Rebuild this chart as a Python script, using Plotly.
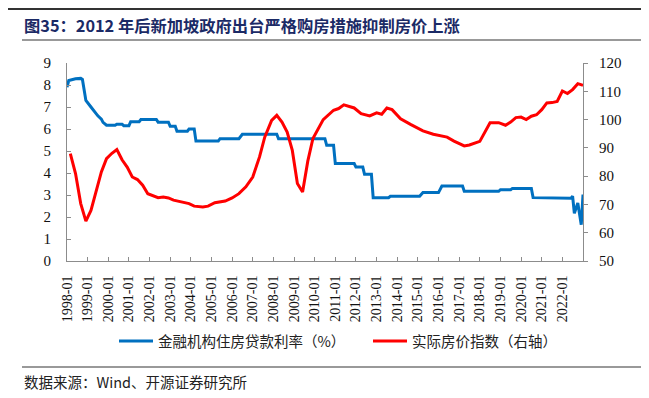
import plotly.graph_objects as go

# ---------------- data ----------------
rate_dates = ["1998-01","1998-02","1998-06","1998-09","1998-10","1998-12","1999-03","1999-05","1999-07",
              "1999-09","1999-10","1999-12","2000-05","2000-06","2000-09","2000-10","2001-01","2001-02",
              "2001-07","2001-08","2002-05","2002-06","2002-12","2003-01","2003-04","2003-05","2003-11",
              "2003-12","2004-03","2004-04","2005-05","2005-06","2006-05","2006-07","2008-03","2008-04",
              "2010-07","2010-08","2010-12","2011-01","2011-12","2012-01","2012-05","2012-06","2012-10",
              "2012-11","2013-08","2013-09","2015-02","2015-04","2016-01","2016-03","2017-03","2017-04",
              "2018-12","2019-01","2019-07","2019-08","2020-07","2020-08","2021-06","2022-06","2022-07",
              "2022-08","2022-10","2022-12","2023-01"]
rate_values = [7.9,8.2,8.28,8.3,8.25,7.3,7.0,6.77,6.6,
               6.45,6.3,6.17,6.17,6.22,6.22,6.15,6.15,6.33,
               6.33,6.43,6.43,6.31,6.31,6.12,6.12,5.9,5.9,
               6.0,6.0,5.45,5.45,5.56,5.56,5.76,5.76,5.56,
               5.56,5.26,5.26,4.43,4.43,4.27,4.27,3.94,3.94,
               2.88,2.88,2.94,2.94,3.11,3.11,3.41,3.41,3.17,
               3.17,3.24,3.24,3.30,3.30,2.88,2.86,2.85,2.95,
               2.17,2.64,1.65,3.02]

hpi_dates = ["1998-03","1998-06","1998-09","1998-12","1999-03","1999-06","1999-09","1999-12","2000-03",
             "2000-06","2000-09","2000-12","2001-03","2001-06","2001-09","2001-12","2002-06","2002-09",
             "2002-12","2003-03","2003-08","2003-12","2004-03","2004-08","2004-11","2005-03","2005-09",
             "2006-01","2006-05","2006-09","2007-01","2007-05","2007-08","2007-12","2008-03","2008-06",
             "2008-09","2008-12","2009-03","2009-06","2009-09","2009-12","2010-06","2010-12","2011-03",
             "2011-06","2011-12","2012-04","2012-09","2013-01","2013-04","2013-07","2013-10","2014-03",
             "2014-09","2015-04","2015-10","2016-06","2016-10","2017-04","2017-07","2018-01","2018-07",
             "2018-12","2019-04","2019-07","2019-10","2020-01","2020-04","2020-07","2020-10","2021-01",
             "2021-04","2021-07","2021-10","2022-01","2022-04","2022-07","2022-10","2023-01"]
hpi_values = [88.0,80.9,70.3,64.1,67.9,75.0,81.5,86.2,88.0,
              89.4,85.8,83.2,79.7,78.8,76.8,73.8,72.4,72.6,
              72.3,71.5,70.8,70.3,69.4,69.1,69.4,70.6,71.2,
              72.3,73.8,76.2,79.7,86.8,93.8,99.7,101.5,99.1,
              95.6,89.1,77.4,74.4,85.3,93.3,100.0,103.3,103.9,
              105.2,104.1,102.1,101.3,102.4,101.9,104.1,103.5,100.3,
              98.2,96.0,94.8,93.8,92.4,90.7,91.0,92.3,98.9,
              98.9,98.0,99.1,100.7,100.9,100.0,101.2,101.7,103.5,
              105.9,106.0,106.4,110.1,109.2,110.6,112.7,112.1]

tick_labels = [f"{y}-01" for y in range(1998, 2023)]
left_ticks = list(range(0, 10))
right_ticks = list(range(50, 130, 10))

title_text = "图35：2012 年后新加坡政府出台严格购房措施抑制房价上涨"
source_text = "数据来源：Wind、开源证券研究所"
name_rate = "金融机构住房贷款利率（%）"
name_hpi = "实际房价指数（右轴）"

# ---------------- layout geometry ----------------
# the page body has an 8px default margin, so the figure is drawn 8px in from the top-left
OFF = 8
W, H = 649 - OFF, 398 - OFF
L, R, T, B = 67 - OFF, 583 - OFF, 63 - OFF, 261 - OFF  # plot area in figure pixels
def px(x):  # x given in reference-image pixels
    return (x - OFF - L) / (R - L)
def py(y):
    return (B - (y - OFF)) / (B - T)

CJK = "Noto Sans CJK SC"
SERIF = "Liberation Serif, Times New Roman, serif"

fig = go.Figure()
fig.add_trace(go.Scatter(x=[d + "-01" for d in rate_dates], y=rate_values, mode="lines",
                         name=name_rate, line=dict(color="#0070C0", width=3)))
fig.add_trace(go.Scatter(x=[d + "-01" for d in hpi_dates], y=hpi_values, mode="lines",
                         name=name_hpi, yaxis="y2", line=dict(color="#FF0000", width=3)))

axis_col = "#8c8c8c"
fig.update_layout(
    width=W, height=H,
    margin=dict(l=L, r=W - R, t=T, b=H - B, pad=0, autoexpand=False),
    paper_bgcolor="white", plot_bgcolor="white",
    showlegend=True,
    legend=dict(orientation="h", x=px(114), xanchor="left", y=py(341), yanchor="middle",
                font=dict(family=CJK, size=14.5, color="#222"), bgcolor="rgba(0,0,0,0)",
                itemwidth=34, tracegroupgap=0, entrywidth=205),
    xaxis=dict(type="date", range=["1998-01-01", "2023-01-01"],
               tickvals=[t + "-01" for t in tick_labels], ticktext=tick_labels,
               tickangle=-90, ticks="inside", ticklen=4, tickcolor=axis_col,
               showline=True, linecolor=axis_col, linewidth=1, showgrid=False, zeroline=False,
               tickfont=dict(family=SERIF, size=14, color="#111"), ticklabelstandoff=8),
    yaxis=dict(range=[0, 9], tickvals=left_ticks, ticks="inside", ticklen=4, tickcolor=axis_col,
               showline=True, linecolor=axis_col, linewidth=1, showgrid=False, zeroline=False,
               tickfont=dict(family=SERIF, size=15, color="#111"), ticklabelstandoff=12),
    yaxis2=dict(range=[50, 120], tickvals=right_ticks, overlaying="y", side="right",
                ticks="outside", ticklen=4, tickcolor=axis_col,
                showline=True, linecolor=axis_col, linewidth=1, showgrid=False, zeroline=False,
                tickfont=dict(family=SERIF, size=15, color="#111"), ticklabelstandoff=8),
)

fig.add_annotation(text="<b>" + title_text + "</b>", xref="paper", yref="paper",
                   x=px(22), y=py(25), xanchor="left", yanchor="middle", showarrow=False,
                   font=dict(family=CJK, size=16.3, color="#1b2a66"))
fig.add_annotation(text=source_text, xref="paper", yref="paper",
                   x=px(22), y=py(381), xanchor="left", yanchor="middle", showarrow=False,
                   font=dict(family=CJK, size=14.5, color="#222"))

fig.add_shape(type="line", xref="paper", yref="paper", x0=px(8), x1=px(642), y0=py(9), y1=py(9),
              line=dict(color="#333", width=2))
fig.add_shape(type="line", xref="paper", yref="paper", x0=px(22), x1=px(646), y0=py(40), y1=py(40),
              line=dict(color="#777", width=1.5))
fig.add_shape(type="line", xref="paper", yref="paper", x0=px(22), x1=px(646), y0=py(367), y1=py(367),
              line=dict(color="#777", width=1.5))

fig.write_html("out.html")
